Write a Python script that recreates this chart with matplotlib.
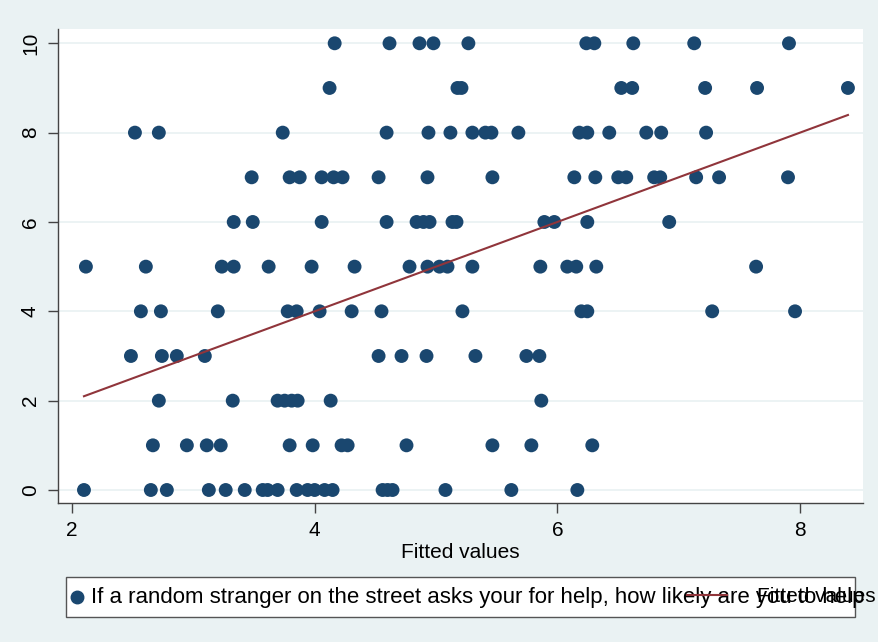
import matplotlib
matplotlib.use('Agg')
import matplotlib.pyplot as plt
from matplotlib.lines import Line2D
from matplotlib.patches import Rectangle

plt.rcParams['font.family'] = ['Liberation Sans', 'DejaVu Sans']

# responses (y) per row, fitted values (x)
x_10 = [4.165, 4.617, 4.864, 4.979, 5.267, 6.239, 6.305, 6.626, 7.128, 7.909]
x_9 = [4.123, 5.177, 5.210, 6.527, 6.617, 7.218, 7.646, 8.395]
x_8 = [2.519, 2.716, 3.737, 4.593, 4.938, 5.119, 5.300, 5.407, 5.457, 5.679,
       6.181, 6.247, 6.428, 6.733, 6.856, 7.226]
x_7 = [3.481, 3.794, 3.877, 4.058, 4.156, 4.230, 4.527, 4.930, 5.465, 6.140,
       6.313, 6.502, 6.568, 6.798, 6.848, 7.144, 7.333, 7.901]
x_6 = [3.333, 3.490, 4.058, 4.593, 4.840, 4.897, 4.947, 5.136, 5.169, 5.893,
       5.975, 6.247, 6.922]
x_5 = [2.115, 2.609, 3.235, 3.333, 3.621, 3.975, 4.329, 4.782, 4.930, 5.029,
       5.095, 5.300, 5.860, 6.082, 6.156, 6.321, 7.638]
x_4 = [2.568, 2.733, 3.202, 3.778, 3.852, 4.041, 4.305, 4.551, 5.218, 6.198,
       6.247, 7.276, 7.959]
x_3 = [2.486, 2.741, 2.864, 3.095, 4.527, 4.716, 4.922, 5.325, 5.745, 5.852]
x_2 = [2.716, 3.325, 3.695, 3.753, 3.811, 3.860, 4.132, 5.868]
x_1 = [2.667, 2.947, 3.111, 3.226, 3.794, 3.984, 4.222, 4.272, 4.757, 5.465,
       5.786, 6.288]
x_0 = [2.099, 2.650, 2.782, 3.128, 3.267, 3.424, 3.572, 3.613, 3.695, 3.852,
       3.942, 4.000, 4.082, 4.148, 4.560, 4.601, 4.642, 5.078, 5.621, 6.165]

rows = {10: x_10, 9: x_9, 8: x_8, 7: x_7, 6: x_6, 5: x_5,
        4: x_4, 3: x_3, 2: x_2, 1: x_1, 0: x_0}

fit_x = [2.099, 8.395]
fit_y = [2.099, 8.395]

x_ticks = [2, 4, 6, 8]
y_ticks = [0, 2, 4, 6, 8, 10]

resp_label = ('If a random stranger on the street asks your for help, '
              'how likely are you to help')
fit_label = 'Fitted values'

navy = '#1a476f'
maroon = '#90353b'
bg = '#eaf2f3'

fig = plt.figure(figsize=(8.79, 6.42), dpi=100, facecolor=bg)
ax = fig.add_axes([58 / 879, 1 - 503 / 642, 805 / 879, 474 / 642])
ax.set_facecolor('white')

xs, ys = [], []
for k, vals in rows.items():
    xs += vals
    ys += [k] * len(vals)

for yt in y_ticks:
    ax.axhline(yt, color=bg, lw=1.3, zorder=0)

ax.scatter(xs, ys, s=100, color=navy, edgecolors='none', zorder=2)
ax.plot(fit_x, fit_y, color=maroon, lw=1.5, zorder=3)

ax.set_xlim(1.885, 8.519)
ax.set_ylim(-0.291, 10.32)
ax.set_xticks(x_ticks)
ax.set_yticks(y_ticks)
ax.set_xticklabels([str(v) for v in x_ticks], fontsize=15)
ax.set_yticklabels([str(v) for v in y_ticks], fontsize=15, rotation=90, va='center')
ax.tick_params(axis='both', length=7, width=1, color='#444444', pad=6)
ax.set_xlabel(fit_label, fontsize=15, labelpad=2)

for side in ['top', 'right']:
    ax.spines[side].set_visible(False)
for side in ['left', 'bottom']:
    ax.spines[side].set_color('#444444')
    ax.spines[side].set_linewidth(1)

# legend box (entries overlap, as in the original)
W, H = 879, 642
fig.patches.append(Rectangle((66 / W, 1 - 617 / H), 789 / W, 40 / H,
                             transform=fig.transFigure, facecolor='white',
                             edgecolor='#555555', lw=1, zorder=1))
fig.lines.append(Line2D([77 / W], [1 - 597 / H], transform=fig.transFigure,
                        marker='o', markersize=9, color=navy, ls='none', zorder=3))
fig.text(91 / W, 1 - 597 / H, resp_label, fontsize=16, va='center', ha='left', zorder=3)
fig.lines.append(Line2D([687 / W, 727 / W], [1 - 595 / H, 1 - 595 / H],
                        transform=fig.transFigure, color=maroon, lw=1.5, zorder=4))
fig.text(757 / W, 1 - 597 / H, fit_label, fontsize=15, va='center', ha='left', zorder=4)

fig.savefig('out.png', dpi=100, facecolor=bg)
